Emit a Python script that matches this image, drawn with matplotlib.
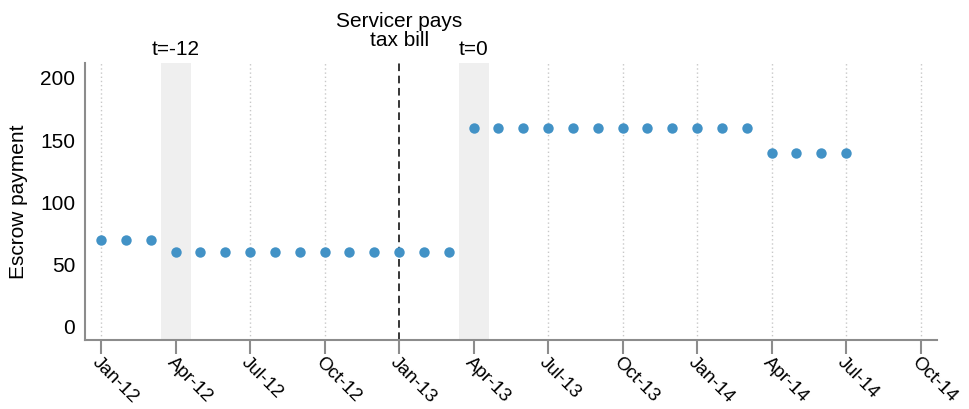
import matplotlib
matplotlib.use("Agg")
import matplotlib.pyplot as plt
import numpy as np

plt.rcParams['font.family'] = ['Liberation Sans', 'DejaVu Sans']
plt.rcParams['font.size'] = 15

# monthly observations, Jan-12 .. Jul-14
payment = [70, 70, 70,
           60, 60, 60, 60, 60, 60, 60, 60, 60, 60, 60, 60,
           160, 160, 160, 160, 160, 160, 160, 160, 160, 160, 160, 160,
           140, 140, 140, 140]
tick_labels = ['Jan-12', 'Apr-12', 'Jul-12', 'Oct-12', 'Jan-13', 'Apr-13',
               'Jul-13', 'Oct-13', 'Jan-14', 'Apr-14', 'Jul-14', 'Oct-14']
event_months = [3, 15]          # t=-12, t=0
event_labels = ['t=-12', 't=0']
bill_month = 12                 # Jan-13

x = np.arange(len(payment))
tick_pos = np.arange(len(tick_labels)) * 3

fig = plt.figure(figsize=(9.69, 4.09), dpi=100)
ax = fig.add_axes([0.0877, 0.1687, 0.879, 0.6773])

grey = '#8c8c8c'
for t in tick_pos:
    if t != bill_month:
        ax.axvline(t, color='#c8c8c8', lw=1, ls=(0, (1, 2)), zorder=0)

for m, lab in zip(event_months, event_labels):
    ax.axvspan(m - 0.6, m + 0.6, color='#efefef', lw=0, zorder=0)
    ax.annotate(lab, xy=(m, 1.0), xycoords=ax.get_xaxis_transform(),
                xytext=(0, 3), textcoords='offset points',
                ha='center', va='bottom', fontsize=15)

ax.axvline(bill_month, color='black', lw=1.1, ls=(0, (5, 3)), zorder=1)
ax.annotate('Servicer pays\ntax bill', xy=(bill_month, 1.0),
            xycoords=ax.get_xaxis_transform(), xytext=(0, 9),
            textcoords='offset points', ha='center', va='bottom',
            multialignment='center', fontsize=15, linespacing=1.05)

ax.plot(x, payment, 'o', color='#4292c6', markersize=7.5,
        markeredgewidth=0, zorder=3)

ax.set_xlim(-0.65, 33.65)
ax.set_ylim(-10.5, 212)
ax.set_yticks([0, 50, 100, 150, 200])
ax.set_xticks(tick_pos)
ax.set_xticklabels(tick_labels, rotation=-45, ha='left', va='top',
                   rotation_mode='anchor', fontsize=13.5)
ax.set_ylabel('Escrow payment', labelpad=9)

for s in ['top', 'right']:
    ax.spines[s].set_visible(False)
for s in ['left', 'bottom']:
    ax.spines[s].set_color(grey)
    ax.spines[s].set_linewidth(1.5)
ax.tick_params(axis='x', length=10, width=1.5, color=grey, pad=0)
ax.tick_params(axis='y', length=0, pad=7)

fig.savefig('out.png', dpi=100)
